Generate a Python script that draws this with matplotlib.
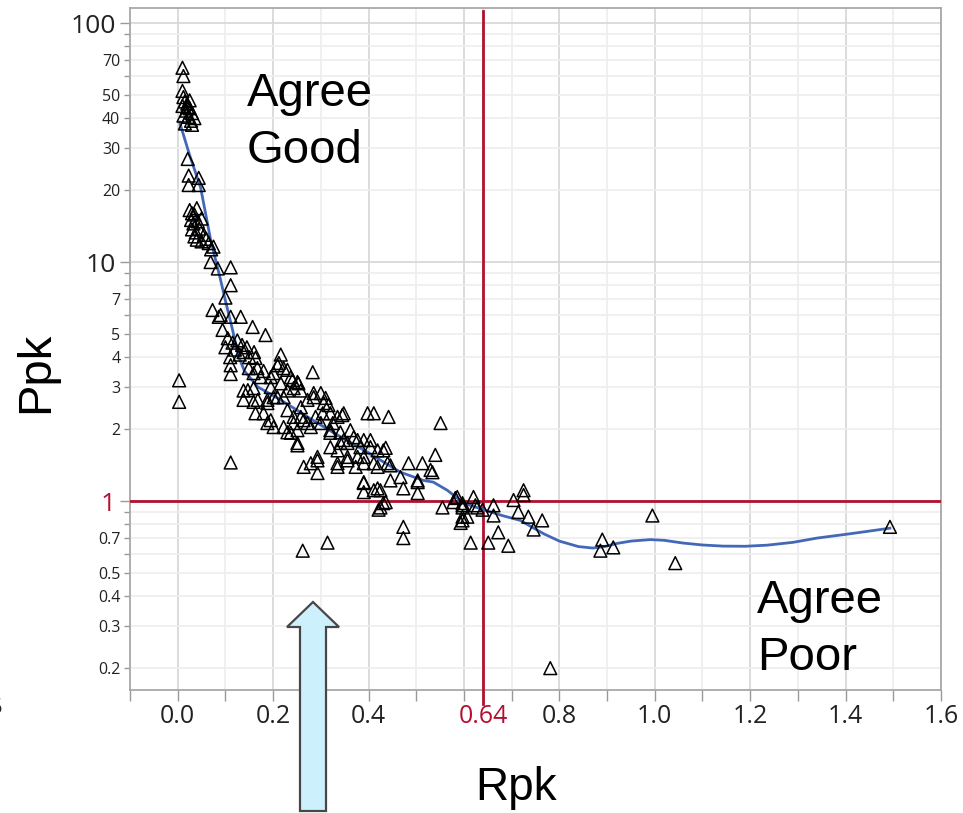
import numpy as np
import matplotlib
matplotlib.use("Agg")
import matplotlib.pyplot as plt
from matplotlib.patches import Polygon

# Rpk / Ppk points
rpk = [0.010, 0.012,
       0.010, 0.012, 0.015, 0.020, 0.010, 0.025, 0.018, 0.030, 0.012, 0.022, 0.035, 0.028, 0.015, 0.030, 0.020, 0.025,
       0.003, 0.003,
       0.021, 0.023, 0.044, 0.023, 0.044,
       0.025, 0.030, 0.035, 0.040, 0.028, 0.033, 0.042, 0.050, 0.030, 0.038, 0.045, 0.055, 0.040, 0.050, 0.060, 0.065, 0.070, 0.035,
       0.075, 0.069, 0.084, 0.111, 0.111, 0.100,
       0.073, 0.086, 0.111, 0.132, 0.157, 0.094, 0.184, 0.090,
       0.105, 0.115, 0.125, 0.135, 0.145, 0.120, 0.100, 0.130, 0.150, 0.110, 0.160, 0.138, 0.163,
       0.111, 0.111, 0.149, 0.167, 0.216, 0.283,
       0.138, 0.159, 0.180, 0.195, 0.209, 0.222, 0.237, 0.251, 0.159, 0.188, 0.209, 0.230, 0.243, 0.258, 0.285, 0.300,
       0.310, 0.316, 0.345, 0.163, 0.188, 0.201, 0.230, 0.243, 0.258, 0.272, 0.289, 0.304, 0.325, 0.341, 0.251, 0.264,
       0.293, 0.293, 0.335, 0.356, 0.369, 0.383, 0.398, 0.411, 0.442, 0.404, 0.419, 0.431, 0.390, 0.419, 0.440, 0.390,
       0.390, 0.419, 0.436, 0.421, 0.484, 0.513, 0.540, 0.534, 0.473, 0.503, 0.503, 0.446, 0.551, 0.555, 0.578, 0.597,
       0.620, 0.593, 0.597,
       0.212, 0.201, 0.230, 0.241, 0.253, 0.216, 0.195, 0.174, 0.159, 0.147, 0.138, 0.168, 0.188, 0.201, 0.222, 0.230,
       0.243, 0.258, 0.272, 0.285, 0.306, 0.320, 0.335, 0.348, 0.362, 0.320, 0.300, 0.279, 0.264, 0.251, 0.237, 0.222,
       0.195, 0.180, 0.251, 0.293, 0.279, 0.335, 0.356, 0.377, 0.320, 0.341,
       0.111,
       0.320, 0.348, 0.335, 0.356, 0.377, 0.390, 0.404, 0.390, 0.411, 0.436, 0.446, 0.373, 0.390, 0.411, 0.425, 0.425,
       0.431, 0.467, 0.503, 0.530, 0.582, 0.597, 0.628, 0.597,
       0.586, 0.597, 0.624, 0.639, 0.662, 0.662, 0.607, 0.614, 0.651, 0.672, 0.693, 0.704, 0.725, 0.725, 0.714, 0.735,
       0.746, 0.764,
       0.262, 0.314, 0.473, 0.473, 0.781, 0.890, 0.886, 0.913, 0.995, 1.043, 1.493]
ppk = [65, 60,
       52, 49, 47, 46, 45, 44, 43, 42, 41, 40.5, 40, 39, 38, 37.5, 44.5, 47.5,
       3.2, 2.6,
       27, 23, 22.5, 21, 21,
       16.5, 16, 15.8, 16.8, 15, 14.5, 14.8, 15.2, 13.7, 13.3, 13.8, 13, 12.4, 12.2, 12.5, 12, 11.3, 12.8,
       11.6, 10, 9.4, 9.5, 8.0, 7.1,
       6.3, 5.9, 5.9, 5.9, 5.35, 5.2, 4.95, 6.0,
       4.8, 4.6, 4.7, 4.5, 4.4, 4.3, 4.4, 4.1, 4.0, 4.0, 4.2, 4.2, 3.97,
       3.7, 3.4, 3.6, 3.6, 4.1, 3.46,
       2.9, 2.97, 3.5, 3.3, 3.7, 3.6, 3.3, 3.15, 2.6, 2.65, 2.72, 2.9, 2.97, 2.9, 2.72, 2.83,
       2.7, 2.52, 2.29, 2.33, 2.12, 2.04, 1.94, 2.12, 2.25, 2.12, 2.25, 2.33, 2.12, 1.94, 1.71, 1.39,
       1.48, 1.31, 1.39, 1.75, 1.85, 1.68, 2.33, 2.33, 2.25, 1.8, 1.63, 1.63, 1.44, 1.39, 1.44, 1.19,
       1.09, 1.13, 0.99, 0.92, 1.44, 1.44, 1.56, 1.32, 1.13, 1.08, 1.2, 1.22, 2.12, 0.94, 0.99, 0.98,
       1.04, 0.81, 0.83,
       3.78, 3.43, 3.54, 3.21, 3.11, 3.11, 3.0, 3.3, 3.43, 2.91, 2.65, 2.65, 2.57, 2.72, 2.72, 2.4,
       2.25, 2.47, 2.65, 2.83, 2.57, 2.33, 2.25, 2.33, 1.98, 1.98, 2.12, 2.04, 2.18, 1.98, 1.93, 2.04,
       2.18, 2.33, 1.75, 1.53, 1.44, 1.44, 1.53, 1.53, 1.68, 1.75,
       1.45,
       1.93, 1.8, 1.63, 1.48, 1.8, 1.8, 1.68, 1.53, 1.44, 1.67, 1.41, 1.39, 1.2, 1.11, 1.11, 0.94,
       0.98, 1.26, 1.22, 1.35, 1.03, 0.94, 0.94, 0.86,
       1.04, 0.96, 0.96, 0.92, 0.96, 0.87, 0.86, 0.67, 0.67, 0.74, 0.65, 1.01, 1.11, 1.06, 0.9, 0.86,
       0.76, 0.83,
       0.62, 0.67, 0.78, 0.70, 0.2, 0.69, 0.62, 0.64, 0.87, 0.55, 0.78]

# smoother (blue curve)
fit_x = [0.004, 0.025, 0.048, 0.069, 0.090, 0.100, 0.115, 0.128, 0.140, 0.168, 0.209, 0.243, 0.280, 0.327,
         0.398, 0.467, 0.515, 0.536, 0.565, 0.600, 0.641, 0.680, 0.718, 0.767, 0.800, 0.840, 0.870, 0.895,
         0.921, 0.950, 0.991, 1.020, 1.060, 1.100, 1.143, 1.190, 1.236, 1.290, 1.340, 1.410, 1.493]
fit_y = [38.5, 28, 20.5, 12.4, 8.4, 6.9, 5.2, 4.0, 3.5, 3.0, 2.7, 2.45, 2.2, 1.93,
         1.6, 1.32, 1.22, 1.2, 1.11, 0.98, 0.92, 0.87, 0.83, 0.73, 0.68, 0.645, 0.636, 0.645,
         0.665, 0.68, 0.69, 0.685, 0.667, 0.655, 0.648, 0.647, 0.654, 0.672, 0.70, 0.73, 0.77]

rpk_ref = 0.64
ppk_ref = 1

x_ticks = [0.0, 0.2, 0.4, 0.6, 0.64, 0.8, 1.0, 1.2, 1.4, 1.6]
x_labels = ['0.0', '0.2', '0.4', '', '0.64', '0.8', '1.0', '1.2', '1.4', '1.6']
x_minor = [-0.1, 0.1, 0.3, 0.5, 0.7, 0.9, 1.1, 1.3, 1.5]
y_major = [1, 10, 100]
y_major_labels = ['1', '10', '100']
y_minor = [0.2, 0.3, 0.4, 0.5, 0.6, 0.7, 0.8, 0.9, 2, 3, 4, 5, 6, 7, 8, 9, 20, 30, 40, 50, 60, 70, 80, 90]
y_minor_labels = ['0.2', '0.3', '0.4', '0.5', '', '0.7', '', '', '2', '3', '4', '5', '', '7', '', '',
                  '20', '30', '40', '50', '', '70', '', '']

RED = '#b3102f'
GRID_MAJ = '#d6d6d6'
GRID_MIN = '#eeeeee'
TICK_FONT = 'Open Sans'

fig = plt.figure(figsize=(9.63, 8.13), dpi=100)
ax = fig.add_axes([130 / 963, 123 / 813, 811 / 963, 682 / 813])

ax.set_yscale('log')
ax.set_xlim(-0.1, 1.6)
ax.set_ylim(0.162, 115.6)

ax.set_xticks(x_ticks, labels=x_labels)
ax.set_xticks(x_minor, minor=True)
ax.set_yticks(y_major, labels=y_major_labels)
ax.set_yticks(y_minor, labels=y_minor_labels, minor=True)

ax.grid(True, which='major', color=GRID_MAJ, lw=1.2, zorder=0)
ax.grid(True, which='minor', color=GRID_MIN, lw=1.2, zorder=0)
ax.set_axisbelow(True)

ax.tick_params(axis='x', which='both', length=8, width=1, color='#999999', pad=2,
               labelsize=18, labelcolor='#222222')
ax.tick_params(axis='y', which='major', length=7, width=1, color='#999999', pad=3,
               labelsize=19, labelcolor='#222222')
ax.tick_params(axis='y', which='minor', length=4, width=1, color='#999999', pad=3,
               labelsize=11.5, labelcolor='#222222')
for lab in ax.get_xticklabels() + ax.get_yticklabels(which='both'):
    lab.set_family(TICK_FONT)
ax.get_xticklabels()[4].set_color(RED)
ax.get_yticklabels()[0].set_color(RED)

for s in ax.spines.values():
    s.set_color('#a8a8a8')
    s.set_linewidth(1.3)

# reference lines
ax.axhline(ppk_ref, color=RED, lw=2, zorder=3)
ax.plot([rpk_ref, rpk_ref], [-0.02, 0.996], color=RED, lw=2, zorder=3,
        transform=ax.get_xaxis_transform(), clip_on=False)

ax.plot(fit_x, fit_y, color='#4468b8', lw=2, zorder=4)
ax.scatter(rpk, ppk, marker='^', s=85, facecolors='none', edgecolors='black',
           linewidths=1.1, zorder=5)

ax.text(0.144, 0.856, 'Agree', fontsize=34, family='Liberation Sans', transform=ax.transAxes)
ax.text(0.144, 0.773, 'Good', fontsize=34, family='Liberation Sans', transform=ax.transAxes)
ax.text(0.773, 0.113, 'Agree', fontsize=34, family='Liberation Sans', transform=ax.transAxes)
ax.text(0.773, 0.029, 'Poor', fontsize=34, family='Liberation Sans', transform=ax.transAxes)

fig.text(0.037, 0.542, 'Ppk', rotation=90, ha='center', va='center', fontsize=34,
         family='Liberation Sans')
fig.text(0.536, 0.016, 'Rpk', ha='center', va='baseline', fontsize=33,
         family='Liberation Sans')
fig.text(-0.004, 1 - 708 / 813, '5', ha='center', va='center', fontsize=16, family=TICK_FONT,
         color='#222222')

# call-out arrow below the axis
arrow_px = [(313, 602), (287, 627), (300, 627), (300, 811), (326, 811), (326, 627), (339, 627)]
arrow = Polygon([(x / 963, 1 - y / 813) for x, y in arrow_px], closed=True,
                transform=fig.transFigure, facecolor='#cdf1fc', edgecolor='#474747', lw=1.6, zorder=10)
fig.add_artist(arrow)

fig.savefig('out.png', dpi=100)
